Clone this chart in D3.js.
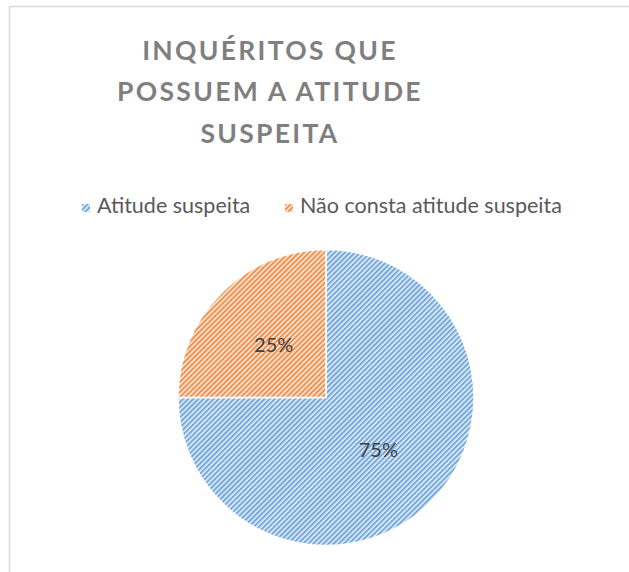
<!DOCTYPE html>
<html>
<head>
<meta charset="utf-8">
<script src="https://cdn.jsdelivr.net/npm/d3@7"></script>
<style>
  html, body { margin: 0; padding: 0; background: #fff; }
  svg { display: block; }
</style>
</head>
<body>
<svg id="chart" width="629" height="572"></svg>
<script>
const titleLines = ["INQUÉRITOS QUE", "POSSUEM A ATITUDE", "SUSPEITA"];
const categories = ["Atitude suspeita", "Não consta atitude suspeita"];
const values = [75, 25];
const labels = ["75%", "25%"];
const baseColors = ["#5b9bd5", "#ed7d31"];
const lightColors = ["#d8e5f5", "#fbdfca"];

const svg = d3.select("#chart");

// chart frame
svg.append("rect")
  .attr("x", 9.5).attr("y", 6.5)
  .attr("width", 700).attr("height", 700)
  .attr("fill", "#fff").attr("stroke", "#d9d9d9").attr("stroke-width", 1.5);

// patterns
const defs = svg.append("defs");
categories.forEach((c, i) => {
  const p = defs.append("pattern")
    .attr("id", "pat" + i)
    .attr("patternUnits", "userSpaceOnUse")
    .attr("width", 3.6).attr("height", 10)
    .attr("patternTransform", "rotate(45)");
  p.append("rect").attr("width", 3.6).attr("height", 10).attr("fill", lightColors[i]);
  p.append("rect").attr("x", 0).attr("width", 1.6).attr("height", 10).attr("fill", baseColors[i]).attr("opacity", 0.9);
});

// title
const title = svg.append("text")
  .attr("text-anchor", "middle")
  .attr("font-family", "Lato, 'Open Sans', sans-serif")
  .attr("font-weight", "bold")
  .attr("font-size", 26.5)
  .attr("letter-spacing", 2.3)
  .attr("fill", "#7f7f7f");
const titleY = [60, 101, 143];
titleLines.forEach((t, i) => {
  title.append("tspan").attr("x", 270).attr("y", titleY[i]).text(t);
});

// legend
const legend = svg.append("g")
  .attr("font-family", "Lato, 'Open Sans', sans-serif")
  .attr("font-size", 21.5)
  .attr("fill", "#595959");
const legendX = [82, 285];
categories.forEach((c, i) => {
  const g = legend.append("g").attr("transform", `translate(${legendX[i]},0)`);
  g.append("rect").attr("x", 0).attr("y", 204).attr("width", 8).attr("height", 8)
    .attr("fill", `url(#pat${i})`);
  g.append("text").attr("x", 15).attr("y", 213).text(c);
});

// pie
const cx = 326, cy = 397.5, R = 148;
const pie = d3.pie().sort(null).value(d => d)(values);
const arc = d3.arc().innerRadius(0).outerRadius(R);
const pg = svg.append("g").attr("transform", `translate(${cx},${cy})`);
pg.selectAll("path.slice").data(pie).join("path")
  .attr("class", "slice")
  .attr("d", arc)
  .attr("fill", (d, i) => `url(#pat${i})`)
  .attr("stroke", "#fff")
  .attr("stroke-width", 1.5);
pg.selectAll("text.lbl").data(pie).join("text")
  .attr("class", "lbl")
  .attr("transform", d => { const c = arc.centroid(d); return `translate(${c[0]},${c[1] + 7})`; })
  .attr("text-anchor", "middle")
  .attr("font-family", "Lato, 'Open Sans', sans-serif")
  .attr("font-size", 20)
  .attr("fill", "#404040")
  .text((d, i) => labels[i]);
</script>
</body>
</html>
